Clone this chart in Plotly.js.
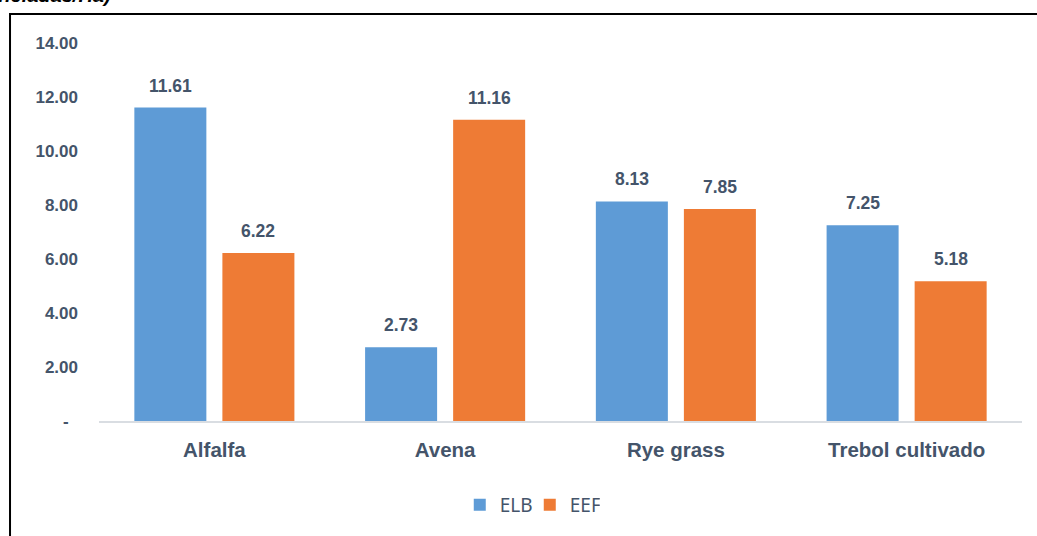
<!DOCTYPE html>
<html>
<head>
<meta charset="utf-8">
<script src="https://cdn.plot.ly/plotly-3.0.1.min.js"></script>
<style>html,body{margin:0;padding:0;background:#fff;}#chart{width:1037px;height:536px;}</style>
</head>
<body>
<div id="chart"></div>
<script>
var categories = ["Alfalfa", "Avena", "Rye grass", "Trebol cultivado"];
var elbValues = [11.61, 2.73, 8.13, 7.25];
var eefValues = [6.22, 11.16, 7.85, 5.18];
var seriesNames = ["ELB", "EEF"];
var yTickVals = [0, 2, 4, 6, 8, 10, 12, 14];
var yTickText = ["-\u00a0\u00a0", "2.00", "4.00", "6.00", "8.00", "10.00", "12.00", "14.00"];

var SANS = "'Liberation Sans', Arial, sans-serif";
var TXT = "#44546a";

var traces = [
  {type: "bar", name: seriesNames[0], x: categories, y: elbValues,
   marker: {color: "#5e9bd6"}, hoverinfo: "y"},
  {type: "bar", name: seriesNames[1], x: categories, y: eefValues,
   marker: {color: "#ee7b35"}, hoverinfo: "y"}
];

var annotations = [];
[elbValues, eefValues].forEach(function (vals, s) {
  vals.forEach(function (v, i) {
    annotations.push({
      x: categories[i], y: v, xref: "x", yref: "y",
      text: v.toFixed(2), showarrow: false,
      xanchor: "center", yanchor: "bottom",
      xshift: s === 0 ? -44 : 44, yshift: 10,
      font: {family: SANS, size: 17.5, color: TXT, weight: "bold"}
    });
  });
});
annotations.push({
  xref: "paper", yref: "paper", x: 0.0152, y: 1.093,
  xanchor: "right", yanchor: "bottom", showarrow: false,
  text: "(Toneladas/Ha)",
  font: {family: SANS, size: 20, color: "#000", weight: "bold", style: "italic"}
});

var layout = {
  width: 1037, height: 536,
  margin: {l: 99, r: 15, t: 43, b: 115, pad: 0},
  paper_bgcolor: "#fff", plot_bgcolor: "#fff",
  barmode: "group", bargap: 0.237, bargroupgap: 0.182,
  showlegend: true,
  legend: {orientation: "h", x: 0.4667, xanchor: "center", y: -0.222, yanchor: "middle",
           font: {family: "'Noto Sans', sans-serif", size: 19, color: TXT},
           itemwidth: 30, entrywidth: 25, traceorder: "normal"},
  xaxis: {type: "category", showgrid: false, zeroline: false, showline: true,
          linecolor: "#d9dde2", linewidth: 2, ticks: "",
          ticklabelstandoff: 9,
          tickfont: {family: SANS, size: 20.5, color: TXT, weight: "bold"}},
  yaxis: {range: [0, 14], tickvals: yTickVals, ticktext: yTickText,
          showgrid: false, zeroline: false, showline: false, ticks: "",
          ticklabelstandoff: 20,
          tickfont: {family: SANS, size: 17, color: TXT, weight: "bold"}},
  annotations: annotations,
  shapes: [{type: "rect", xref: "paper", yref: "paper",
            x0: -0.0964, x1: 2, y0: -1, y1: 1.0767,
            line: {color: "#000", width: 2}, fillcolor: "rgba(0,0,0,0)", layer: "above"}]
};

Plotly.newPlot("chart", traces, layout, {displayModeBar: false, staticPlot: true});
</script>
</body>
</html>
